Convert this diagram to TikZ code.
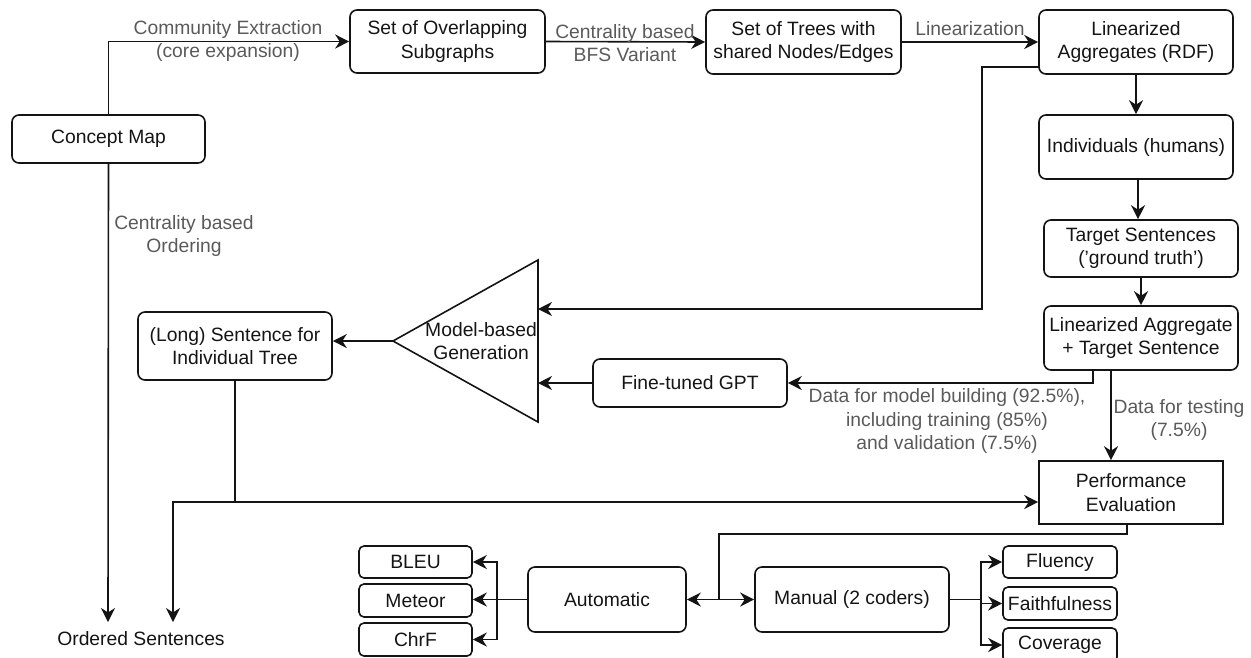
\documentclass[tikz,border=0pt]{standalone}
\usepackage{fontspec}
\setmainfont{Liberation Sans}
\usetikzlibrary{arrows.meta,calc}
\definecolor{lblgray}{HTML}{5A5A5A}
\definecolor{ink}{HTML}{141414}
\tikzset{
  box/.style={draw=ink, rounded corners=7pt, line width=1.6pt, align=center,
              inner sep=0pt, text=ink},
  sbox/.style={draw=ink, line width=1.6pt, align=center, inner sep=0pt, text=ink},
  ln/.style={draw=ink, line width=1.6pt},
  arr/.style={ln, -{Stealth[length=14pt,width=14pt,inset=4.5pt]}},
  lbl/.style={text=lblgray, align=center, inner sep=0pt},
}
\begin{document}
\begin{tikzpicture}[x=1pt, y=-1pt, font=\fontsize{19.3}{23.5}\selectfont]
\useasboundingbox (0,0) rectangle (1251,657);

% main pipeline boxes
\node[box, minimum width=193pt, minimum height=48pt] (cmap)   at (108.5,139) {Concept Map};
\node[box, minimum width=195pt, minimum height=63pt] (subg)   at (447.5,41.5) {Set of Overlapping\\Subgraphs};
\node[box, minimum width=195pt, minimum height=64pt] (trees)  at (803.5,42) {Set of Trees with\\shared Nodes/Edges};
\node[box, minimum width=194pt, minimum height=64pt] (rdf)    at (1136,42) {Linearized\\Aggregates (RDF)};
\node[box, minimum width=194pt, minimum height=64pt] (indiv)  at (1136,147) {Individuals (humans)};
\node[box, minimum width=194pt, minimum height=57pt] (target) at (1141,248.5) {Target Sentences\\('ground truth')};
\node[box, minimum width=194pt, minimum height=64pt] (linagg) at (1141,338) {Linearized Aggregate\\+ Target Sentence};
\node[box, minimum width=194pt, minimum height=68pt] (longs)  at (235,346) {(Long) Sentence for\\Individual Tree};
\node[box, minimum width=194pt, minimum height=48pt] (gpt)    at (690,383) {Fine-tuned GPT};
\node[sbox, minimum width=184pt, minimum height=63pt] (perf)  at (1131,492.5) {Performance\\Evaluation};
\node[box, minimum width=158pt, minimum height=65pt] (auto)   at (607,599.5) {Automatic};
\node[box, minimum width=194pt, minimum height=65pt] (manual) at (852,599.5) {Manual (2 coders)};

% metric boxes
\node[box, rounded corners=5pt, minimum width=113pt, minimum height=32pt] (bleu)   at (415.5,562) {BLEU};
\node[box, rounded corners=5pt, minimum width=113pt, minimum height=33pt] (meteor) at (415.5,600.5) {Meteor};
\node[box, rounded corners=5pt, minimum width=113pt, minimum height=33pt] (chrf)   at (415.5,639.5) {ChrF};
\node[box, rounded corners=5pt, minimum width=114pt, minimum height=32pt] (fluency)  at (1060,562) {Fluency};
\node[box, rounded corners=5pt, minimum width=114pt, minimum height=33pt] (faith)    at (1060,603.5) {Faithfulness};
\node[box, rounded corners=5pt, minimum width=114pt, minimum height=34pt] (coverage) at (1060,645) {Coverage};

\node[text=ink, inner sep=0pt] (ordered) at (141,639) {Ordered Sentences};

% generation triangle
\draw[ln, line join=miter] (393,341) -- (538,260) -- (538,422) -- cycle;
\coordinate (tapex) at (393,341);
\coordinate (tin1) at (538,309);
\coordinate (tin2) at (538,383);
\node[text=ink, align=center, inner sep=0pt] (gen) at (481,341) {Model-based\\Generation};

% top row
\draw[arr] (cmap.north) |- (subg.west);
\node[lbl] (l1) at (228,41) {Community Extraction\\(core expansion)};
\draw[arr] (subg.east) -- (trees.west);
\node[lbl] (l2) at (625,43) {Centrality based\\BFS Variant};
\draw[arr] (trees.east) -- (rdf.west);
\node[lbl] (l3) at (970,29) {Linearization};

% right column
\draw[arr] (rdf.south) -- (indiv.north);
\draw[arr] (indiv.south -| 1138,0) -- (target.north -| 1138,0);
\draw[arr] (target.south) -- (linagg.north);

% aggregates into the generator
\coordinate (r1) at (1039,67);
\draw[arr] (r1) -- (982,67) |- (tin1);
\draw[arr] (gpt.west) -- (tin2);
\draw[arr] (tapex) -- (tapex -| longs.east);

% data split
\coordinate (d1) at (1093,370);
\draw[arr] (d1) |- (gpt.east);
\node[lbl] (l4) at (947,421) {Data for model building (92.5\%),\\including training (85\%)\\and validation (7.5\%)};
\coordinate (d2) at (1111,370);
\draw[arr] (d2) -- (d2 |- perf.north);
\node[lbl] (l5) at (1179,420) {Data for testing\\(7.5\%)};

% ordering branch
\coordinate (o1) at (108,622);
\draw[arr] (cmap.south) -- (o1);
\node[lbl] (l6) at (184,236) {Centrality based\\Ordering};

% generated sentences
\coordinate (j) at (235,502);
\coordinate (o2) at (173,622);
\draw[ln] (longs.south) -- (j);
\draw[arr] (j) -- (j -| perf.west);
\draw[arr] (j) -| (o2);

% evaluation split
\coordinate (p1) at (1127,524);
\coordinate (split) at (719,599.5);
\draw[ln] (p1) |- (719,534) -- (split);
\draw[arr] (split) -- (auto.east);
\draw[arr] (split) -- (manual.west);

% automatic metrics
\coordinate (b) at (497,599.5);
\draw[ln] (auto.west) -- (b);
\draw[arr] (b) |- (bleu.east);
\draw[arr] (b) -- (b -| meteor.east);
\draw[arr] (b) |- (chrf.east);

% manual criteria
\coordinate (m) at (981,599.5);
\draw[ln] (manual.east) -- (m);
\draw[arr] (m) |- (fluency.west);
\draw[arr] (m) |- (faith.west);
\draw[arr] (m) |- (coverage.west);
\end{tikzpicture}
\end{document}
